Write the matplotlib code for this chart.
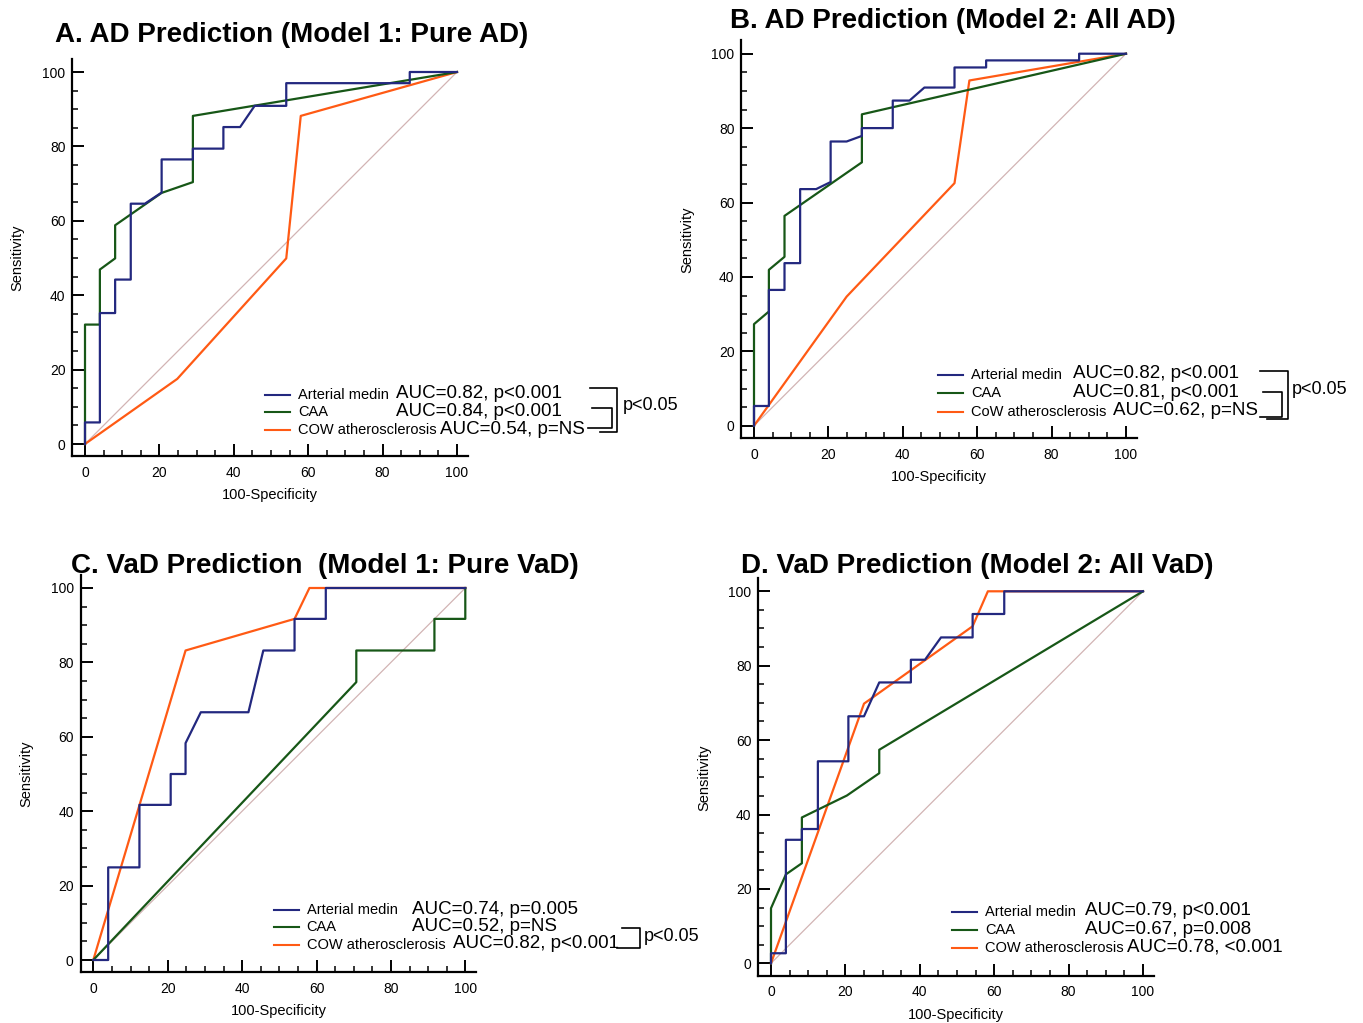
import matplotlib
matplotlib.use("Agg")
import matplotlib.pyplot as plt
from matplotlib.ticker import MultipleLocator

plt.rcParams['font.family'] = ['Liberation Sans', 'DejaVu Sans']

W, H = 1363, 1023
C_BLUE = '#23287f'
C_GREEN = '#175717'
C_ORANGE = '#ff5a14'
C_DIAG = '#d2b4b4'

# ---------------- data (100-Specificity, Sensitivity) ----------------
# Panel A: AD prediction, model 1 (pure AD)
a_medin_x = [0, 0, 4.0, 4.0, 8.1, 8.1, 12.3, 12.3, 16.1, 20.6, 20.6, 29.0, 29.0, 37.2, 37.2, 41.7, 45.6, 54.1, 54.1, 87.3, 87.3, 100]
a_medin_y = [0, 5.8, 5.8, 35.2, 35.2, 44.2, 44.2, 64.6, 64.6, 67.6, 76.5, 76.5, 79.4, 79.4, 85.2, 85.2, 90.9, 90.9, 97.0, 97.0, 100, 100]
a_caa_x = [0, 0, 4.0, 4.0, 8.1, 8.1, 20.6, 29.0, 29.0, 100]
a_caa_y = [0, 32.1, 32.1, 46.9, 49.9, 58.8, 67.5, 70.4, 88.2, 100]
a_cow_x = [0, 24.8, 54.1, 58.0, 100]
a_cow_y = [0, 17.5, 49.9, 88.2, 100]

# Panel B: AD prediction, model 2 (all AD)
b_medin_x = [0, 0, 4.0, 4.0, 8.2, 8.2, 12.4, 12.4, 16.7, 20.6, 20.6, 24.9, 29.0, 29.0, 37.3, 37.3, 41.8, 45.8, 53.9, 53.9, 62.4, 62.4, 87.4, 87.4, 100]
b_medin_y = [0, 5.3, 5.3, 36.5, 36.5, 43.7, 43.7, 63.6, 63.6, 65.5, 76.4, 76.4, 77.9, 80.0, 80.0, 87.4, 87.4, 90.9, 90.9, 96.3, 96.3, 98.2, 98.2, 100, 100]
b_caa_x = [0, 0, 4.0, 4.0, 8.2, 8.2, 29.0, 29.0, 100]
b_caa_y = [0, 27.3, 30.7, 41.9, 45.4, 56.4, 70.8, 83.7, 100]
b_cow_x = [0, 24.9, 53.9, 57.9, 100]
b_cow_y = [0, 34.7, 65.2, 92.8, 100]

# Panel C: VaD prediction, model 1 (pure VaD)
c_medin_x = [0, 4.0, 4.0, 12.4, 12.4, 20.8, 20.8, 24.8, 24.8, 28.9, 41.7, 45.7, 54.1, 54.1, 62.5, 62.5, 100]
c_medin_y = [0, 0, 24.9, 24.9, 41.7, 41.7, 50.0, 50.0, 58.3, 66.6, 66.6, 83.2, 83.2, 91.7, 91.7, 100, 100]
c_caa_x = [0, 70.7, 70.7, 91.7, 91.7, 100, 100]
c_caa_y = [0, 74.7, 83.2, 83.2, 91.7, 91.7, 100]
c_cow_x = [0, 24.8, 54.1, 58.1, 100]
c_cow_y = [0, 83.2, 91.7, 100, 100]

# Panel D: VaD prediction, model 2 (all VaD)
d_medin_x = [0, 0, 4.0, 4.0, 8.3, 8.3, 12.6, 12.6, 20.8, 20.8, 25.0, 29.1, 37.6, 37.6, 41.4, 45.7, 54.2, 54.2, 62.7, 62.7, 100]
d_medin_y = [0, 2.7, 2.7, 33.2, 33.2, 36.1, 36.1, 54.3, 54.3, 66.4, 66.4, 75.5, 75.5, 81.6, 81.6, 87.6, 87.6, 93.9, 93.9, 100, 100]
d_caa_x = [0, 0, 4.0, 8.3, 8.3, 20.4, 29.1, 29.1, 100]
d_caa_y = [0, 14.8, 23.9, 26.9, 39.2, 45.1, 51.1, 57.4, 100]
d_cow_x = [0, 25.0, 54.2, 58.3, 100]
d_cow_y = [0, 69.8, 90.6, 100, 100]

titles = ["A. AD Prediction (Model 1: Pure AD)",
          "B. AD Prediction (Model 2: All AD)",
          "C. VaD Prediction  (Model 1: Pure VaD)",
          "D. VaD Prediction (Model 2: All VaD)"]
series_names = [["Arterial medin", "CAA", "COW atherosclerosis"],
                ["Arterial medin", "CAA", "CoW atherosclerosis"],
                ["Arterial medin", "CAA", "COW atherosclerosis"],
                ["Arterial medin", "CAA", "COW atherosclerosis"]]
auc_texts = [["AUC=0.82, p<0.001", "AUC=0.84, p<0.001", "AUC=0.54, p=NS"],
             ["AUC=0.82, p<0.001", "AUC=0.81, p<0.001", "AUC=0.62, p=NS"],
             ["AUC=0.74, p=0.005", "AUC=0.52, p=NS", "AUC=0.82, p<0.001"],
             ["AUC=0.79, p<0.001", "AUC=0.67, p=0.008", "AUC=0.78, <0.001"]]
x_ticks = [0, 20, 40, 60, 80, 100]
y_ticks = [0, 20, 40, 60, 80, 100]

panels = [
    (a_medin_x, a_medin_y, a_caa_x, a_caa_y, a_cow_x, a_cow_y),
    (b_medin_x, b_medin_y, b_caa_x, b_caa_y, b_cow_x, b_cow_y),
    (c_medin_x, c_medin_y, c_caa_x, c_caa_y, c_cow_x, c_cow_y),
    (d_medin_x, d_medin_y, d_caa_x, d_caa_y, d_cow_x, d_cow_y),
]

# ---------------- layout (pixels) ----------------
SCALE = 3.72                       # px per data unit
XLIM = (-3.4, 103.0)
YLIM = (-3.3, 103.6)
origins = [(85, 444), (754, 425.7), (93.3, 960), (771, 963.3)]   # pixel of data (0,0)
title_pos = [(55, 42), (730, 28), (71, 573), (741, 573)]
ylabel_x = [17, 687, 26, 704]
legend_rows = [(395, 412.3, 430), (375, 393.3, 411.7), (910, 927.3, 945), (911.7, 930, 948.3)]
legend_label_x = [298, 971, 306.7, 985]
auc_x = [(396, 396, 440), (1072.7, 1072.7, 1113), (411.7, 411.7, 452.7), (1085, 1085, 1126.7)]
brackets = [
    [[(590, 387.7), (616.7, 387.7), (616.7, 431.7), (600, 431.7)],
     [(591.7, 408.3), (611.7, 408.3), (611.7, 428.3), (588.3, 428.3)]],
    [[(1260, 370.7), (1288.3, 370.7), (1288.3, 419.3), (1267, 419.3)],
     [(1263, 391.7), (1281.7, 391.7), (1281.7, 416.7), (1260, 416.7)]],
    [[(621.7, 928.3), (640, 928.3), (640, 948.3), (616.7, 948.3)]],
    [],
]
pval_pos = [(623, 406), (1292, 389), (644, 936.7), None]


def fx(px):
    return px / W


def fy(py):
    return 1 - py / H


fig = plt.figure(figsize=(W / 100, H / 100), dpi=100)

for i, (mx, my, cx, cy, ox, oy) in enumerate(panels):
    x0, y0 = origins[i]
    left = x0 + XLIM[0] * SCALE
    bottom = y0 - YLIM[0] * SCALE
    width = (XLIM[1] - XLIM[0]) * SCALE
    height = (YLIM[1] - YLIM[0]) * SCALE
    ax = fig.add_axes([fx(left), fy(bottom), width / W, height / H])
    ax.set_xlim(*XLIM)
    ax.set_ylim(*YLIM)
    ax.plot([0, 100], [0, 100], color=C_DIAG, lw=0.9, zorder=1)
    ax.plot(ox, oy, color=C_ORANGE, lw=1.6, zorder=2)
    ax.plot(cx, cy, color=C_GREEN, lw=1.6, zorder=3)
    ax.plot(mx, my, color=C_BLUE, lw=1.6, zorder=4)

    for s in ('top', 'right'):
        ax.spines[s].set_visible(False)
    for s in ('left', 'bottom'):
        ax.spines[s].set_linewidth(1.6)
        ax.spines[s].set_color('black')
    ax.set_xticks(x_ticks)
    ax.set_yticks(y_ticks)
    ax.xaxis.set_minor_locator(MultipleLocator(5))
    ax.yaxis.set_minor_locator(MultipleLocator(5))
    ax.tick_params(which='major', direction='in', length=(3.3 * SCALE) * 72 / 100, width=1.4,
                   labelsize=10, pad=5)
    ax.tick_params(which='minor', direction='in', length=4.5, width=1.1)
    ax.tick_params(axis='x', which='major', pad=7)
    ax.set_xlabel("100-Specificity", fontsize=10.5, labelpad=6)

    # y label
    fig.text(fx(ylabel_x[i]), fy(y0 - 50 * SCALE), "Sensitivity", fontsize=10.5,
             rotation=90, ha='center', va='center')

    # title
    tx, ty = title_pos[i]
    fig.text(fx(tx), fy(ty), titles[i], fontsize=20, fontweight='bold', ha='left', va='baseline')

    # legend (manual)
    colors = [C_BLUE, C_GREEN, C_ORANGE]
    for r in range(3):
        ry = legend_rows[i][r]
        lx = legend_label_x[i]
        fig.add_artist(plt.Line2D([fx(lx - 33), fx(lx - 8)], [fy(ry), fy(ry)],
                                  color=colors[r], lw=1.5, transform=fig.transFigure))
        fig.text(fx(lx), fy(ry), series_names[i][r], fontsize=10.5, ha='left', va='center')
        fig.text(fx(auc_x[i][r]), fy(ry - 1), auc_texts[i][r], fontsize=13.5, ha='left', va='center')

    for br in brackets[i]:
        fig.add_artist(plt.Line2D([fx(p[0]) for p in br], [fy(p[1]) for p in br],
                                  color='black', lw=1.2, transform=fig.transFigure))
    if pval_pos[i] is not None:
        fig.text(fx(pval_pos[i][0]), fy(pval_pos[i][1]), "p<0.05", fontsize=13, ha='left', va='center')

fig.savefig("out.png", dpi=100, facecolor='white')
